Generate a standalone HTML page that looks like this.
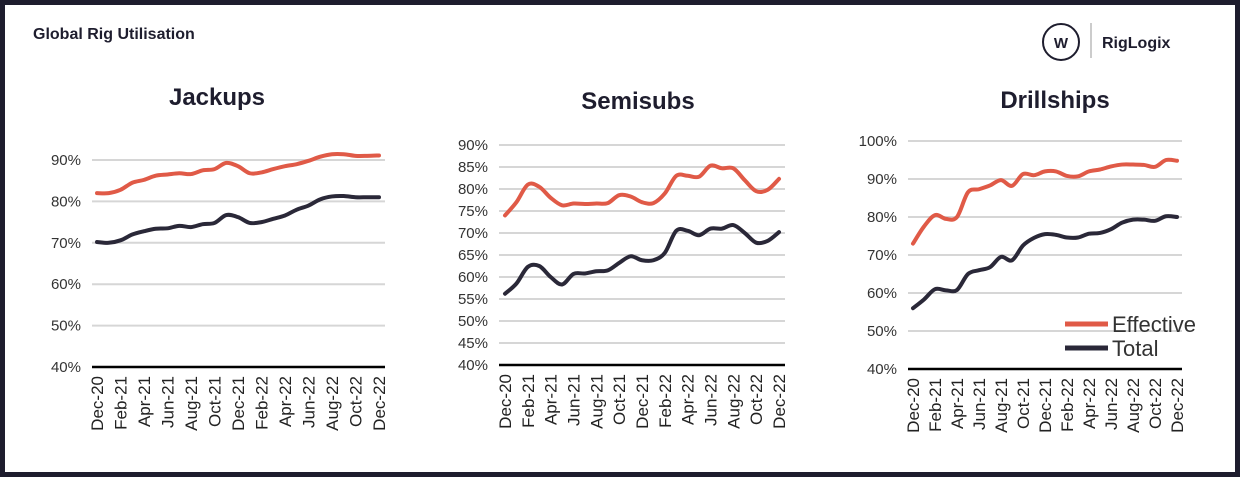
<!DOCTYPE html>
<html><head><meta charset="utf-8"><style>
html,body{margin:0;padding:0;background:#1e1d2e;}
#frame{position:absolute;left:5px;top:5px;width:1230px;height:467px;background:#fff;overflow:hidden}
svg{position:absolute;left:0;top:0}
text{font-family:"Liberation Sans",sans-serif;}
</style></head><body>
<div id="frame"></div>
<svg id="s" width="1240" height="477">
<text x="33" y="39" font-size="16" font-weight="bold" fill="#1e1d2e">Global Rig Utilisation</text>
<g>
<circle cx="1061" cy="42" r="18" fill="none" stroke="#1e1d2e" stroke-width="2"/>
<text x="1061" y="48" font-size="15" font-weight="bold" text-anchor="middle" fill="#1e1d2e">W</text>
<line x1="1091" y1="23" x2="1091" y2="58" stroke="#999" stroke-width="1"/>
<text x="1102" y="48" font-size="16" font-weight="bold" fill="#1e1d2e">RigLogix</text>
</g>
</svg>
<script>
const months=["Dec-20","Jan-21","Feb-21","Mar-21","Apr-21","May-21","Jun-21","Jul-21","Aug-21","Sep-21","Oct-21","Nov-21","Dec-21","Jan-22","Feb-22","Mar-22","Apr-22","May-22","Jun-22","Jul-22","Aug-22","Sep-22","Oct-22","Nov-22","Dec-22"];
const jackEff=[82,82,82.8,84.5,85.2,86.2,86.5,86.8,86.6,87.5,87.8,89.3,88.5,86.8,87,87.8,88.5,89,89.8,90.8,91.4,91.4,91,91,91.1];
const jackTot=[70.2,70,70.6,72,72.8,73.4,73.5,74.1,73.8,74.5,74.8,76.7,76.2,74.8,75,75.8,76.6,78,79,80.5,81.2,81.3,81,81,81];
const semiEff=[74,77,81,80.5,78,76.3,76.7,76.6,76.7,76.8,78.6,78.3,77,76.8,79,83,83,82.8,85.3,84.7,84.7,82,79.5,79.8,82.3];
const semiTot=[56.2,58.5,62.3,62.5,60,58.3,60.7,60.8,61.3,61.5,63.2,64.7,63.8,63.8,65.5,70.5,70.5,69.5,71,71,71.8,70,67.8,68.2,70.2];
const drillEff=[73,77.5,80.5,79.5,80,86.5,87.3,88.3,89.7,88.2,91.3,91,92,92,90.8,90.7,92,92.5,93.3,93.8,93.8,93.7,93.2,95,94.8];
const drillTot=[56,58.3,61,60.7,60.8,65,66,66.8,69.5,68.6,72.5,74.5,75.5,75.3,74.6,74.6,75.6,75.8,76.8,78.5,79.3,79.3,79,80.2,80];
const jackTicks=[40,50,60,70,80,90];
const semiTicks=[40,45,50,55,60,65,70,75,80,85,90];
const drillTicks=[40,50,60,70,80,90,100];
const NS="http://www.w3.org/2000/svg";
const svg=document.getElementById('s');
function mk(tag,attrs,parent){const e=document.createElementNS(NS,tag);for(const k in attrs)e.setAttribute(k,attrs[k]);(parent||svg).appendChild(e);return e;}
function path(pts){let d="M"+pts[0][0]+","+pts[0][1];for(let i=0;i<pts.length-1;i++){const p0=pts[Math.max(0,i-1)],p1=pts[i],p2=pts[i+1],p3=pts[Math.min(pts.length-1,i+2)];const c1x=p1[0]+(p2[0]-p0[0])/6,c1y=p1[1]+(p2[1]-p0[1])/6,c2x=p2[0]-(p3[0]-p1[0])/6,c2y=p2[1]-(p3[1]-p1[1])/6;d+=` C${c1x},${c1y} ${c2x},${c2y} ${p2[0]},${p2[1]}`;}return d;}
function chart(o){
  const g=mk('g',{});
  
  
  const t=mk('text',{x:o.tx,y:o.ty,'font-size':24,'font-weight':'bold','text-anchor':'middle',fill:'#1e1d2e'},g);
  
  
  t.textContent=o.title;
  const lo=o.ticks[0],hi=o.ticks[o.ticks.length-1];
  const y=v=>o.y0-(v-lo)/(hi-lo)*(o.y0-o.y1);
  const x=i=>o.px0+i*(o.px1-o.px0)/(months.length-1);
  o.ticks.forEach(v=>{
    const ln=mk('line',{x1:o.x0,x2:o.x1,y1:y(v),y2:y(v),stroke:v===lo?'#000':'#d6d6d6','stroke-width':v===lo?2.5:2},g);
    
    
    const tl=mk('text',{x:o.x0-11,y:y(v)+5,'font-size':15,'text-anchor':'end',fill:'#333'},g);
    
    
    tl.textContent=v+'%';
  });
  months.forEach((m,i)=>{if(i%2)return;
    const tl=mk('text',{x:0,y:0,'font-size':17,'text-anchor':'end',fill:'#222',transform:`translate(${x(i)+6},${o.y0+9}) rotate(-90)`},g);
    
    
    tl.textContent=m;
  });
  [[o.tot,'#2a2838','total-line'],[o.eff,'#e05a47','effective-line']].forEach(([d,c,n])=>{
    const p=mk('path',{d:path(d.map((v,i)=>[x(i),y(v)])),fill:'none',stroke:c,'stroke-width':4,'stroke-linecap':'round'},g);
    
    
  });
}
chart({name:'jackups-chart',title:'Jackups',tx:217,ty:105,ticks:jackTicks,y0:367,y1:160,x0:92,x1:385,px0:97,px1:379,eff:jackEff,tot:jackTot});
chart({name:'semisubs-chart',title:'Semisubs',tx:638,ty:109,ticks:semiTicks,y0:365,y1:145,x0:499,x1:785,px0:505,px1:779,eff:semiEff,tot:semiTot});
chart({name:'drillships-chart',title:'Drillships',tx:1055,ty:108,ticks:drillTicks,y0:369,y1:141,x0:908,x1:1182,px0:913,px1:1177,eff:drillEff,tot:drillTot});
const lg=mk('g',{});


[['Effective','#e05a47',324],['Total','#2a2838',348]].forEach(([n,c,yy])=>{
  const l=mk('line',{x1:1065,x2:1108,y1:yy,y2:yy,stroke:c,'stroke-width':5},lg);
  
  
  const t=mk('text',{x:1112,y:yy+8,'font-size':22,fill:'#333'},lg);
  
  
  t.textContent=n;
});
</script>
</body></html>
